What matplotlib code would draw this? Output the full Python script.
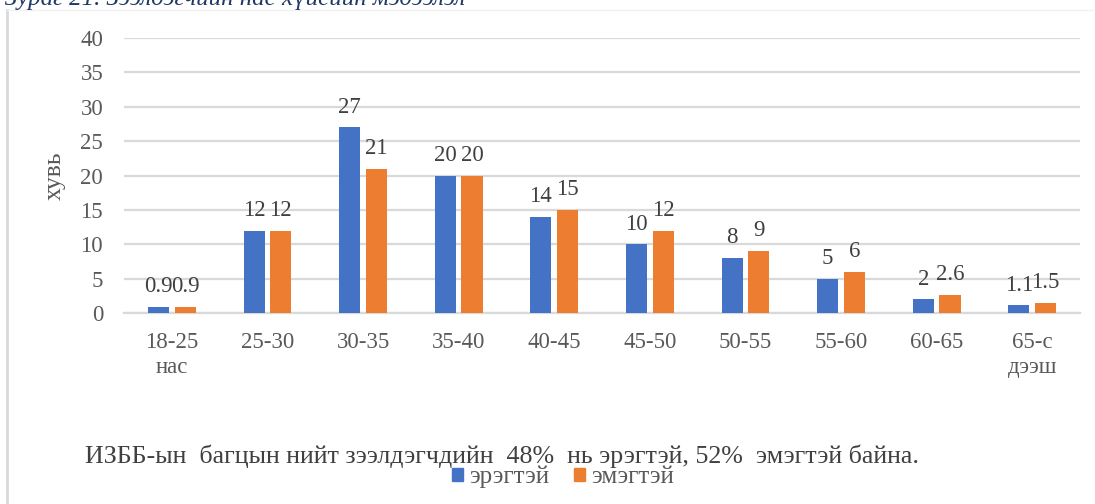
import matplotlib
matplotlib.use("Agg")
import matplotlib.pyplot as plt
import numpy as np
from matplotlib.lines import Line2D
from matplotlib.patches import Patch

plt.rcParams['font.family'] = ['Liberation Serif', 'DejaVu Serif']

categories = ["18-25\nнас", "25-30", "30-35", "35-40", "40-45", "45-50",
              "50-55", "55-60", "60-65", "65-с\nдээш"]
male = [0.9, 12, 27, 20, 14, 10, 8, 5, 2, 1.1]
female = [0.9, 12, 21, 20, 15, 12, 9, 6, 2.6, 1.5]
male_labels = ["0.9", "12", "27", "20", "14", "10", "8", "5", "2", "1.1"]
female_labels = ["0.9", "12", "21", "20", "15", "12", "9", "6", "2.6", "1.5"]
series_names = ["эрэгтэй", "эмэгтэй"]
yticks = [0, 5, 10, 15, 20, 25, 30, 35, 40]

BLUE = "#4472C4"
ORANGE = "#ED7D31"
GRID = "#D9D9D9"

W, H = 1095, 504
fig = plt.figure(figsize=(W / 100, H / 100), dpi=100)
ax = fig.add_axes([124 / W, 1 - 313 / H, (1080 - 124) / W, (313 - 38) / H])

x = np.arange(len(categories))
bw = 0.22
off = 0.14
b1 = ax.bar(x - off, male, bw, color=BLUE, zorder=3)
b2 = ax.bar(x + off, female, bw, color=ORANGE, zorder=3)

for bars, labs in ((b1, male_labels), (b2, female_labels)):
    for r, lab in zip(bars, labs):
        ax.annotate(lab, (r.get_x() + r.get_width() / 2, r.get_height()),
                    xytext=(0, 7), textcoords="offset points",
                    ha="center", va="bottom", fontsize=16.5, color="#404040")

ax.set_xlim(-0.5, len(categories) - 0.5)
ax.set_ylim(0, 40)
ax.set_yticks(yticks)
ax.yaxis.grid(True, color=GRID, linewidth=1.6, zorder=0)
ax.set_axisbelow(True)
for s in ("top", "right", "left"):
    ax.spines[s].set_visible(False)
ax.spines["bottom"].set_color(GRID)
ax.spines["bottom"].set_linewidth(1.6)
ax.tick_params(axis="y", length=0, pad=15, labelsize=16.5, labelcolor="#595959")
ax.set_xticks(x)
ax.set_xticklabels(categories)
ax.tick_params(axis="x", length=0, pad=14, labelsize=16.5, labelcolor="#595959")
ax.set_ylabel("хувь", fontsize=18.5, color="#595959")
ax.yaxis.set_label_coords(-(124 - 66) / (1080 - 124), (313 - 176) / (313 - 38))

# frame lines
fig.add_artist(Line2D([7 / W, 7 / W], [0, 1 - 10 / H], transform=fig.transFigure,
                      color="#D9D9D9", linewidth=2))
fig.add_artist(Line2D([7 / W, 1093 / W], [1 - 10 / H, 1 - 10 / H], transform=fig.transFigure,
                      color="#F2F2F2", linewidth=1))

# top caption (cut off by the page edge in the original)
fig.text(5 / W, 1 - 5 / H, "Зураг 21. Зээлдэгчийн нас хүйсийн мэдээлэл",
         fontsize=18, style="italic", color="#1F3864", ha="left", va="baseline")

# bottom caption
fig.text(85 / W, 1 - 456 / H,
         "ИЗББ-ын  багцын нийт зээлдэгчдийн  48%  нь эрэгтэй, 52%  эмэгтэй байна.",
         fontsize=18.7, color="#404040", ha="left", va="center")

handles = [Patch(color=BLUE), Patch(color=ORANGE)]
fig.legend(handles, series_names, loc="center", bbox_to_anchor=(563 / W, 1 - 477 / H),
           ncol=2, frameon=False, fontsize=18, handlelength=0.45, handleheight=0.45,
           handletextpad=0.25, columnspacing=1.0, labelcolor="#595959",
           borderpad=0.1)

fig.savefig("out.png", dpi=100)
